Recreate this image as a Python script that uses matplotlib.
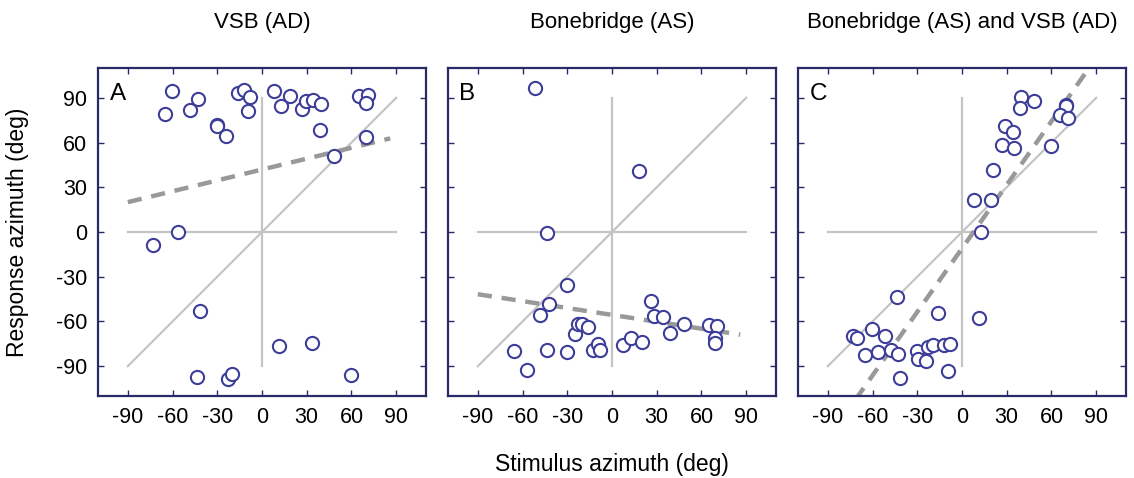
import matplotlib
matplotlib.use("Agg")
import matplotlib.pyplot as plt
import numpy as np

plt.rcParams['font.family'] = ['Liberation Sans', 'DejaVu Sans']
plt.rcParams['axes.unicode_minus'] = False

titles = ["VSB (AD)", "Bonebridge (AS)", "Bonebridge (AS) and VSB (AD)"]
letters = ["A", "B", "C"]
ticks = [-90, -60, -30, 0, 30, 60, 90]

a_x = [-60.1, -65, -48, -43, -30, -30, -24.2, -15.9, -12.1, -8.1, -9.2, 8.1, 12.8, 18.6,
       26.5, 29.4, 34.5, 39.9, 38.6, 48.2, 65.2, 70.8, 69.7, 69.5, -56.5, -73.1, -41.7,
       11.2, 33.6, -43.3, -23.1, -20.2, 59.6]
a_y = [94.8, 79.4, 82, 89, 71.7, 70.8, 64.1, 93.3, 95.5, 90.6, 81.4, 94.4, 84.3, 91.5,
       82.5, 88.1, 88.5, 86.1, 68.1, 51.1, 91.2, 91.7, 86.5, 63.4, -0.2, -9, -52.7,
       -76.4, -74.2, -97.5, -98.9, -95.3, -96.2]

b_x = [-51.8, 18.2, -43.7, -30.3, -42.1, -48, -65.7, -56.9, -43.5, -30.3, -24.9, -23.1,
       -20.4, -15.9, -12.6, -9.2, -8.1, 7.4, 12.6, 20, 26, 28.5, 34.3, 39.2, 48, 65,
       70.4, 69.3, 69.3]
b_y = [96.6, 40.6, -0.4, -35.6, -48.6, -55.4, -79.6, -92.6, -79.1, -80.3, -68.1, -61.6,
       -61.6, -63.9, -79.4, -74.9, -79.4, -75.5, -71.1, -73.5, -46.6, -56.5, -57.2,
       -67.7, -61.9, -62.5, -63, -71.1, -74.6]

c_x = [39.9, 48.4, 38.6, 69.7, 69.7, 65.5, 70.8, 29.1, 34.1, 26.7, 34.7, 59.6, 20.6, 8.1,
       19.3, 12.6, -43.3, -15.9, 11.7, -73.1, -70.4, -60.1, -51.6, -65, -56.5, -47.5,
       -42.6, -30, -29.6, -24.2, -23.1, -19.7, -11.9, -7.8, -9.2, -41.5]
c_y = [90.3, 88.1, 83.2, 85.4, 84.3, 78.7, 76.4, 71.1, 67.3, 58.3, 56.5, 57.4, 41.9, 21.5,
       21.5, 0.2, -43.5, -54.2, -57.4, -69.9, -71.1, -65.2, -69.5, -82.7, -80.5, -79.4,
       -81.8, -80, -85.4, -86.5, -77.3, -75.5, -76, -75.1, -93.5, -98]

# regression lines: (intercept, slope)
fit_a = (41.9, 0.243)
fit_b = (-55.6, -0.154)
fit_c = (-11.0, 1.42)

panels = [(a_x, a_y, fit_a), (b_x, b_y, fit_b), (c_x, c_y, fit_c)]

fig = plt.figure(figsize=(11.34, 4.78), dpi=100)
lefts = [98/1134, 448/1134, 798/1134]
W, H = 328/1134, 328/478
bottom = 82/478

frame_col = '#2a2a66'
mark_col = '#3d3d9a'
ref_col = '#c4c4c4'
dash_col = '#999999'

for i, (xs, ys, fit) in enumerate(panels):
    ax = fig.add_axes([lefts[i], bottom, W, H])
    ax.set_xlim(-110, 110)
    ax.set_ylim(-110, 110)
    # reference lines
    ax.plot([-90, 90], [0, 0], color=ref_col, lw=1.6, zorder=1)
    ax.plot([0, 0], [-90, 90], color=ref_col, lw=1.6, zorder=1)
    ax.plot([-90, 90], [-90, 90], color=ref_col, lw=1.6, zorder=1)
    # regression
    fx = np.array([-90.0, 86.0])
    ax.plot(fx, fit[0] + fit[1] * fx, color=dash_col, lw=3.2, ls=(0, (3.2, 2.2)),
            zorder=2)
    ax.plot(xs, ys, ls='none', marker='o', ms=9.5, mfc='white', mec=mark_col,
            mew=1.5, zorder=3)
    ax.set_xticks(ticks)
    ax.set_yticks(ticks)
    ax.tick_params(direction='in', top=True, right=True, length=4, width=1,
                   color=frame_col, labelsize=15.5, pad=8)
    if i > 0:
        ax.set_yticklabels([])
    for s in ax.spines.values():
        s.set_color(frame_col)
        s.set_linewidth(1.6)
    ax.text(0.035, 0.955, letters[i], transform=ax.transAxes, fontsize=17.5,
            ha='left', va='top')
    ax.text(0.5, 1.14, titles[i], transform=ax.transAxes, fontsize=16,
            ha='center', va='center')

fig.text(612/1134, 1 - 465/478, "Stimulus azimuth (deg)", ha='center', va='center',
         fontsize=16.5)
fig.text(18/1134, 1 - 232/478, "Response azimuth (deg)", ha='center', va='center',
         rotation=90, fontsize=16.5)

fig.savefig("out.png", dpi=100)
